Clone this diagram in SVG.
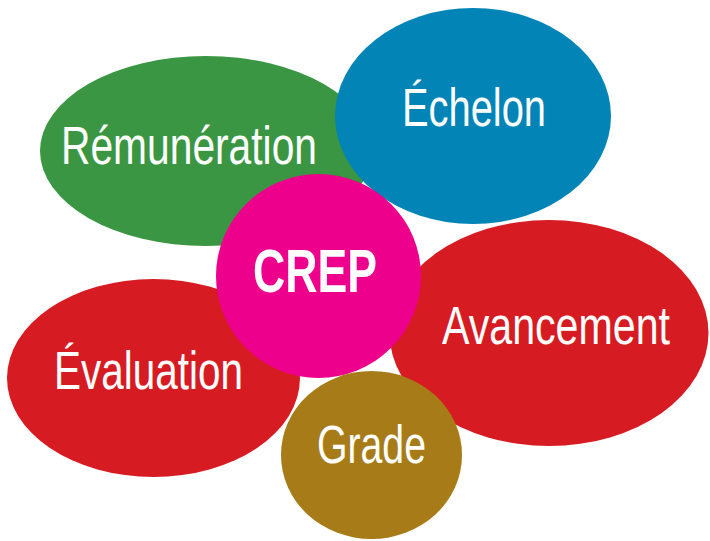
<svg xmlns="http://www.w3.org/2000/svg" width="710" height="541" viewBox="0 0 710 541">
<style>
.lbl{font-family:"Liberation Sans","DejaVu Sans",sans-serif;fill:#ffffff;font-size:54px;}
.bold{font-weight:bold;font-size:61px;}
</style>
<rect width="710" height="541" fill="#ffffff"/>
<g id="remuneration">
<ellipse cx="206" cy="151" rx="166" ry="95" fill="#3a9642"/>
<text class="lbl" x="61" y="164" textLength="256" lengthAdjust="spacingAndGlyphs">Rémunération</text>
</g>
<g id="echelon">
<ellipse cx="473" cy="116" rx="138" ry="108" fill="#0284b6"/>
<text class="lbl" x="402" y="126" textLength="144" lengthAdjust="spacingAndGlyphs">Échelon</text>
</g>
<g id="avancement">
<ellipse cx="549" cy="333" rx="159.5" ry="113" fill="#d71b22"/>
<text class="lbl" transform="translate(442 344) scale(0.76 1)" x="0" y="0" textLength="300" lengthAdjust="spacingAndGlyphs">Avancement</text>
</g>
<g id="evaluation">
<ellipse cx="153.5" cy="378" rx="146.5" ry="99" fill="#d71b22"/>
<text class="lbl" x="54" y="389" textLength="189" lengthAdjust="spacingAndGlyphs">Évaluation</text>
</g>
<g id="crep">
<ellipse cx="318.5" cy="276" rx="102.5" ry="102" fill="#ec008c"/>
<text class="lbl bold" x="253" y="292" textLength="124" lengthAdjust="spacingAndGlyphs">CREP</text>
</g>
<g id="grade">
<ellipse cx="371.5" cy="455" rx="90.5" ry="84" fill="#a77c18"/>
<text class="lbl" x="317" y="463" textLength="109" lengthAdjust="spacingAndGlyphs">Grade</text>
</g>
<g id="connectors"/>
</svg>
